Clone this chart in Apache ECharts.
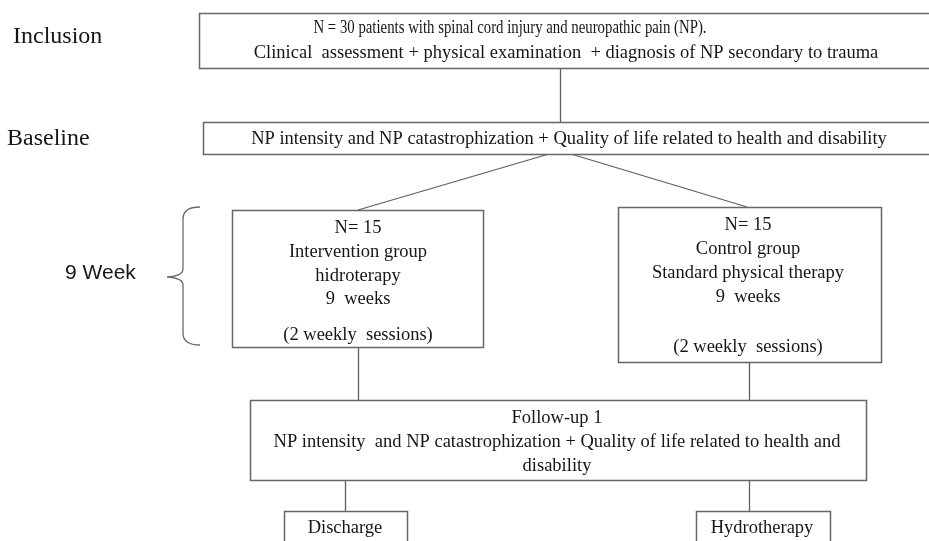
<!DOCTYPE html>
<html>
<head>
<meta charset="utf-8">
<script src="https://cdn.jsdelivr.net/npm/echarts@6/dist/echarts.min.js"></script>
<style>
  html, body { margin: 0; padding: 0; background: #fff; }
  #main { width: 929px; height: 541px; }
</style>
</head>
<body>
<div id="main"></div>
<script>
    // flowchart boxes: [x0, y0, x1, y1] in picture units
    var boxes = [
        [199, 13, 940, 68],
        [203, 122, 940, 154],
        [232, 210, 483, 347],
        [618, 207, 881, 362],
        [250, 400, 866, 480],
        [284, 511, 407, 560],
        [696, 511, 830, 560]
    ];
    // connector lines: [x0, y0, x1, y1]
    var connectors = [
        [560, 68, 560, 122],
        [549, 154, 358, 210],
        [571, 154, 747, 207],
        [358, 347, 358, 400],
        [749, 362, 749, 400],
        [345, 480, 345, 511],
        [749, 480, 749, 511]
    ];
    // text inside boxes: [centre x, y, text]
    var boxTexts = [
        [510, 28, 'N = 30 patients with spinal cord injury and neuropathic pain (NP).'],
        [566, 53, 'Clinical  assessment + physical examination  + diagnosis of NP secondary to trauma'],
        [569, 139, 'NP intensity and NP catastrophization + Quality of life related to health and disability'],
        [358, 228, 'N= 15'],
        [358, 252, 'Intervention group'],
        [358, 276, 'hidroterapy'],
        [358, 299, '9  weeks'],
        [358, 335, '(2 weekly  sessions)'],
        [748, 225, 'N= 15'],
        [748, 249, 'Control group'],
        [748, 273, 'Standard physical therapy'],
        [748, 297, '9  weeks'],
        [748, 347, '(2 weekly  sessions)'],
        [557, 418, 'Follow-up 1'],
        [557, 442, 'NP intensity  and NP catastrophization + Quality of life related to health and'],
        [557, 466, 'disability'],
        [345, 528, 'Discharge'],
        [762, 528, 'Hydrotherapy']
    ];
    // stage labels on the left: [left x, y, text]
    var stageLabels = [
        [13, 37, 'Inclusion'],
        [7, 139, 'Baseline'],
        [65, 273, '9 Week']
    ];
    // curly bracket: [x of spine, top y, bottom y, tip x, tip y]
    var bracket = [[183, 207, 345, 167, 277]];

    var chart = echarts.init(document.getElementById('main'));
    var serif = '"Liberation Serif", "Times New Roman", serif';

    chart.setOption({
        animation: false,
        backgroundColor: '#fff',
        grid: {left: 0, right: 0, top: 0, bottom: 0},
        xAxis: {type: 'value', min: 0, max: 929, show: false},
        yAxis: {type: 'value', min: 0, max: 541, inverse: true, show: false},
        series: [
            {
                type: 'lines',
                coordinateSystem: 'cartesian2d',
                z: 1,
                lineStyle: {color: '#5f5f5f', width: 1.3, opacity: 1},
                data: connectors.map(function (c) {
                    return {coords: [[c[0], c[1]], [c[2], c[3]]]};
                })
            },
            {
                type: 'custom',
                z: 2,
                data: boxes,
                encode: {x: [0, 2], y: [1, 3]},
                renderItem: function (params, api) {
                    var p0 = api.coord([api.value(0), api.value(1)]);
                    var p1 = api.coord([api.value(2), api.value(3)]);
                    return {
                        type: 'rect',
                        shape: {
                            x: Math.round(Math.min(p0[0], p1[0])) + 0.5,
                            y: Math.round(Math.min(p0[1], p1[1])) + 0.5,
                            width: Math.round(Math.abs(p1[0] - p0[0])),
                            height: Math.round(Math.abs(p1[1] - p0[1]))
                        },
                        style: {fill: '#fff', stroke: '#666', lineWidth: 1.5}
                    };
                }
            },
            {
                type: 'custom',
                z: 3,
                data: boxTexts.map(function (t) { return [t[0], t[1]]; }),
                renderItem: function (params, api) {
                    var p = api.coord([api.value(0), api.value(1)]);
                    return {
                        type: 'text',
                        x: p[0],
                        y: p[1],
                        // first line of the top box is set tighter in the original
                        scaleX: params.dataIndex === 0 ? 0.8 : 1,
                        style: {
                            text: boxTexts[params.dataIndex][2],
                            font: '18.5px ' + serif,
                            fill: '#161616',
                            align: 'center',
                            verticalAlign: 'middle'
                        }
                    };
                }
            },
            {
                type: 'custom',
                z: 3,
                data: stageLabels.map(function (t) { return [t[0], t[1]]; }),
                renderItem: function (params, api) {
                    var p = api.coord([api.value(0), api.value(1)]);
                    var isWeek = params.dataIndex === 2;
                    return {
                        type: 'text',
                        x: p[0],
                        y: p[1],
                        style: {
                            text: stageLabels[params.dataIndex][2],
                            font: isWeek ? '21px "Liberation Sans", Arial, sans-serif' : '24px ' + serif,
                            fill: '#161616',
                            align: 'left',
                            verticalAlign: 'middle'
                        }
                    };
                }
            },
            {
                type: 'custom',
                z: 3,
                data: bracket,
                renderItem: function (params, api) {
                    var sx = api.value(0), top = api.value(1), bot = api.value(2);
                    var tx = api.value(3), ty = api.value(4);
                    var c = function (x, y) { return api.coord([x, y]); };
                    var a = c(sx + 17, top), b = c(sx, top + 12), d = c(sx, ty - 8),
                        t = c(tx, ty), e = c(sx, ty + 8), f = c(sx, bot - 12), g = c(sx + 17, bot),
                        q1 = c(sx, top), q2 = c(sx, ty - 1), q3 = c(sx, ty + 1), q4 = c(sx, bot);
                    var path = 'M' + a + ' Q' + q1 + ' ' + b + ' L' + d + ' Q' + q2 + ' ' + t +
                        ' Q' + q3 + ' ' + e + ' L' + f + ' Q' + q4 + ' ' + g;
                    return {
                        type: 'path',
                        shape: {pathData: path},
                        style: {fill: null, stroke: '#6a6a6a', lineWidth: 1.3}
                    };
                }
            }
        ]
    });
</script>
</body>
</html>
